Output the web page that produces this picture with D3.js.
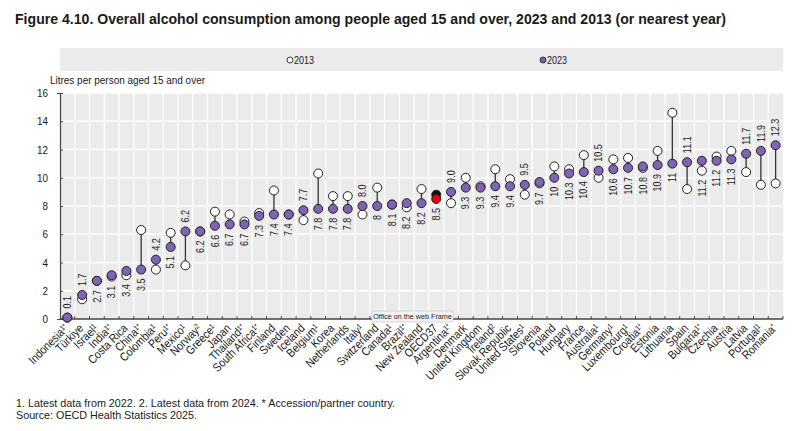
<!DOCTYPE html>
<html>
<head>
<meta charset="utf-8">
<script src="https://cdn.jsdelivr.net/npm/d3@7"></script>
<style>
  body { margin: 0; background: #fff; }
  svg text { font-family: "Liberation Sans Narrow", "Arial Narrow", "Liberation Sans", Arial, sans-serif; fill: #1a1a1a; }
</style>
</head>
<body>
<svg id="chart" width="800" height="431"></svg>
<script>
// countries in chart order, with footnote marks
var countries = ["Indonesia","Türkiye","Israel","India","Costa Rica","China","Colombia","Peru","Mexico","Norway",
  "Greece","Japan","Thailand","South Africa","Finland","Sweden","Iceland","Belgium","Korea","Netherlands",
  "Italy","Switzerland","Canada","Brazil","New Zealand","OECD37","Argentina","Denmark","United Kingdom","Ireland",
  "Slovak Republic","United States","Slovenia","Poland","Hungary","France","Australia","Germany","Luxembourg","Croatia",
  "Estonia","Lithuania","Spain","Bulgaria","Czechia","Austria","Latvia","Portugal","Romania"];
var notes = ["1*","","1","1*","","1*","1","1*","1","2",
  "1","","1*","1*","","","","1","","",
  "1","","1","1*","","","1*","","","2",
  "","1","","","","","1","1","1","1*",
  "","","","1*","","","","1","*"];
var values2023 = [0.1,1.7,2.7,3.1,3.4,3.5,4.2,5.1,6.2,6.2,
  6.6,6.7,6.7,7.3,7.4,7.4,7.7,7.8,7.8,7.8,
  8.0,8.0,8.1,8.2,8.2,8.5,9.0,9.3,9.3,9.4,
  9.4,9.5,9.7,10,10.3,10.4,10.5,10.6,10.7,10.8,
  10.9,11,11.1,11.2,11.2,11.3,11.7,11.9,12.3];
var labels2023 = ["0.1","1.7","2.7","3.1","3.4","3.5","4.2","5.1","6.2","6.2",
  "6.6","6.7","6.7","7.3","7.4","7.4","7.7","7.8","7.8","7.8",
  "8.0","8","8.1","8.2","8.2","8.5","9.0","9.3","9.3","9.4",
  "9.4","9.5","9.7","10","10.3","10.4","10.5","10.6","10.7","10.8",
  "10.9","11","11.1","11.2","11.2","11.3","11.7","11.9","12.3"];
var values2013 = [0.1,1.4,2.7,3.0,3.1,6.3,3.5,6.1,3.8,6.2,
  7.6,7.4,6.9,7.5,9.1,7.4,7.0,10.3,8.7,8.7,
  7.4,9.3,8.1,7.9,9.2,8.8,8.2,10.0,9.4,10.6,
  9.9,8.8,9.6,10.8,10.6,11.6,10.0,11.3,11.4,10.7,
  11.9,14.6,9.2,10.5,11.5,11.9,10.4,9.5,9.6];
// countries whose value label sits above the markers
var labelAbove = ["Indonesia","Türkiye","Colombia","Mexico","Iceland","Italy","Argentina","United States",
  "Australia","Spain","Latvia","Portugal","Romania"];
var yTicks = [0,2,4,6,8,10,12,14,16];
var legendKeys = ["2013","2023"];

var purple = "#8064b4", red = "#e8000b";
var narrow = 0.86; // no condensed font installed, squeeze glyphs instead
var svg = d3.select("#chart");
var plot = {left: 60, right: 783, top: 93, bottom: 319};

var x = d3.scaleBand().domain(countries).range([plot.left, plot.right]);
var y = d3.scaleLinear().domain([0, 16]).range([plot.bottom, plot.top]);

function fitText(sel, len) {
  sel.attr("textLength", len).attr("lengthAdjust", "spacingAndGlyphs");
}

// title
svg.append("text")
  .attr("x", 15).attr("y", 24)
  .style("font-size", "15px").style("font-weight", "bold")
  .text("Figure 4.10. Overall alcohol consumption among people aged 15 and over, 2023 and 2013 (or nearest year)")
  .call(fitText, 711);

// legend band
svg.append("rect").attr("x", 60).attr("y", 48).attr("width", 723).attr("height", 23).attr("fill", "#ebebeb");
var legendX = d3.scalePoint().domain(legendKeys).range([297, 550]);
var lg = svg.selectAll(".leg").data(legendKeys).enter().append("g")
  .attr("transform", function(d) { return "translate(" + legendX(d) + ",60)"; });
lg.append("circle").attr("cx", -7).attr("r", 3)
  .attr("fill", function(d) { return d == "2013" ? "#fff" : purple; })
  .attr("stroke", "#222").attr("stroke-width", 0.9);
lg.append("text").attr("x", -3).attr("dy", "0.35em").style("font-size", "10.5px")
  .text(function(d) { return d; }).call(fitText, 20);

// axis title
svg.append("text").attr("x", 50).attr("y", 84).style("font-size", "10.5px")
  .text("Litres per person aged 15 and over").call(fitText, 155);

// plot background and grid
svg.append("rect").attr("x", plot.left).attr("y", plot.top)
  .attr("width", plot.right - plot.left).attr("height", plot.bottom - plot.top).attr("fill", "#ebebeb");
svg.selectAll(".hgrid").data(yTicks.slice(1)).enter().append("line")
  .attr("x1", plot.left).attr("x2", plot.right)
  .attr("y1", function(d) { return y(d); }).attr("y2", function(d) { return y(d); })
  .attr("stroke", "#fff").attr("stroke-width", 1.3);
svg.selectAll(".vgrid").data(countries.slice(1)).enter().append("line")
  .attr("x1", function(d) { return x(d); }).attr("x2", function(d) { return x(d); })
  .attr("y1", plot.top).attr("y2", plot.bottom)
  .attr("stroke", "#fff").attr("stroke-width", 1.3);

// y axis
var yAxis = svg.append("g").attr("transform", "translate(" + plot.left + ",0)")
  .call(d3.axisLeft(y).tickValues(yTicks).tickSize(3).tickPadding(10));
yAxis.select(".domain").attr("stroke", "#444").attr("stroke-width", 1.2);
yAxis.selectAll(".tick line").attr("stroke", "#444").attr("x2", 3);
yAxis.selectAll("text").style("font-size", "11.5px").attr("fill", "#1a1a1a")
  .style("font-family", "'Liberation Sans Narrow', 'Arial Narrow', 'Liberation Sans', sans-serif")
  .attr("transform", "scale(" + narrow + ",1)")
  .attr("x", -12 / narrow);

// x axis line and ticks at band edges
svg.append("line").attr("x1", plot.left).attr("x2", plot.right)
  .attr("y1", plot.bottom).attr("y2", plot.bottom).attr("stroke", "#444").attr("stroke-width", 1.4);
svg.selectAll(".xtick").data(countries).enter().append("line")
  .attr("x1", function(d) { return x(d) + x.bandwidth(); }).attr("x2", function(d) { return x(d) + x.bandwidth(); })
  .attr("y1", plot.bottom - 3).attr("y2", plot.bottom)
  .attr("stroke", "#444");

// country labels, rotated
var xl = svg.selectAll(".xlab").data(countries).enter().append("text")
  .attr("text-anchor", "end")
  .attr("transform", function(d) {
    return "translate(" + (x(d) + x.bandwidth() / 2 + 2) + "," + (plot.bottom + 10) + ") rotate(-45) scale(" + narrow + ",1)";
  })
  .style("font-size", "12px");
xl.append("tspan").text(function(d) { return d; });
xl.append("tspan").attr("dy", "-0.45em").style("font-size", "7.5px")
  .text(function(d, i) { return notes[i]; });

// connectors
var rows = countries.map(function(c, i) {
  return {name: c, v13: values2013[i], v23: values2023[i], label: labels2023[i]};
});
var cx = function(d) { return x(d.name) + x.bandwidth() / 2; };
svg.selectAll(".conn").data(rows).enter().append("line")
  .attr("x1", cx).attr("x2", cx)
  .attr("y1", function(d) { return y(d.v13); }).attr("y2", function(d) { return y(d.v23); })
  .attr("stroke", "#333").attr("stroke-width", 1.3);

// 2013 markers
svg.selectAll(".m13").data(rows).enter().append("circle")
  .attr("cx", cx).attr("cy", function(d) { return y(d.v13); }).attr("r", 4.5)
  .attr("fill", function(d) { return d.name == "OECD37" ? "#111" : "#fff"; })
  .attr("stroke", "#222").attr("stroke-width", 1);

// 2023 markers
svg.selectAll(".m23").data(rows).enter().append("circle")
  .attr("cx", cx).attr("cy", function(d) { return y(d.v23); }).attr("r", 4.5)
  .attr("fill", function(d) { return d.name == "OECD37" ? red : purple; })
  .attr("stroke", "#222").attr("stroke-width", 1);

// value labels
svg.selectAll(".vlab").data(rows).enter().append("text")
  .attr("text-anchor", function(d) { return labelAbove.indexOf(d.name) >= 0 ? "start" : "end"; })
  .attr("dy", "0.35em")
  .attr("transform", function(d) {
    var above = labelAbove.indexOf(d.name) >= 0;
    var yy = above ? y(Math.max(d.v13, d.v23)) - 9 : y(Math.min(d.v13, d.v23)) + 9;
    return "translate(" + cx(d) + "," + yy + ") rotate(-90) scale(" + narrow + ",1)";
  })
  .style("font-size", "10.5px")
  .text(function(d) { return d.label; });

// screenshot tooltip box
var tip = svg.append("g").attr("transform", "translate(372,311)");
tip.append("rect").attr("width", 81).attr("height", 11).attr("rx", 2)
  .attr("fill", "#f3f3f3").attr("stroke", "#c8c8c8").attr("stroke-width", 0.7);
tip.append("text").attr("x", 40.5).attr("y", 8.2).attr("text-anchor", "middle")
  .style("font-size", "7.2px").style("font-family", "'Liberation Sans', Arial, sans-serif").attr("fill", "#333")
  .text("Office on the web Frame");

// footnotes
svg.append("text").attr("x", 16).attr("y", 407).style("font-size", "11px")
  .text("1. Latest data from 2022. 2. Latest data from 2024. * Accession/partner country.").call(fitText, 379);
svg.append("text").attr("x", 16).attr("y", 419).style("font-size", "11px")
  .text("Source: OECD Health Statistics 2025.").call(fitText, 181);
</script>
</body>
</html>
